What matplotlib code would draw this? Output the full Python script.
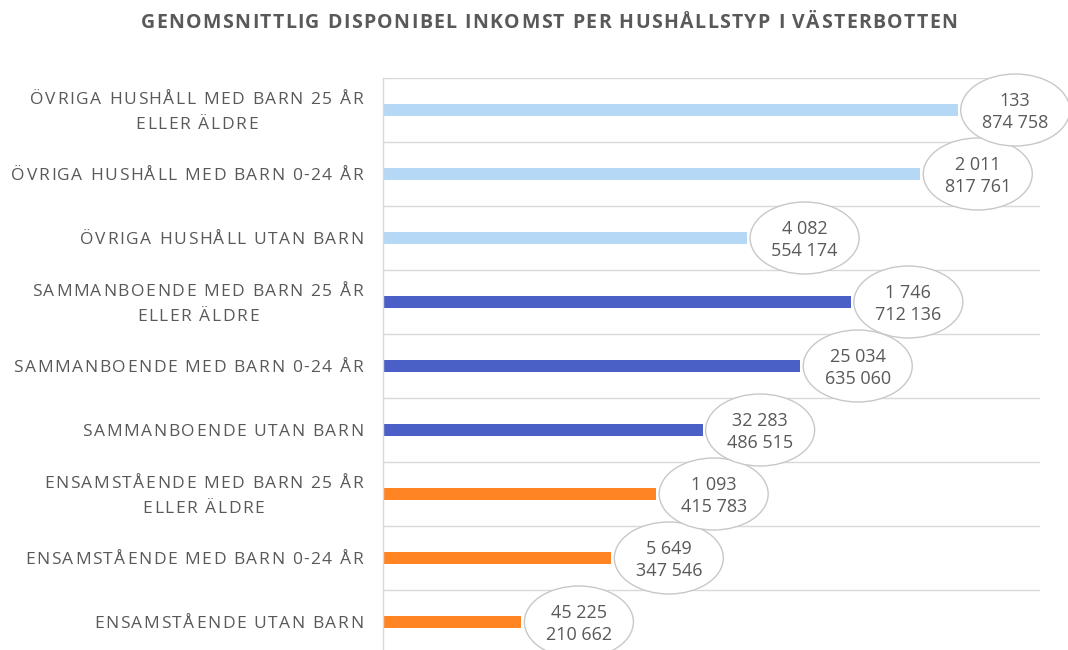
import matplotlib
matplotlib.use("Agg")
import matplotlib.pyplot as plt
from matplotlib.patches import Ellipse
from matplotlib.transforms import ScaledTranslation
from matplotlib.font_manager import FontProperties, findfont
from matplotlib.ft2font import FT2Font

# Household types, listed top to bottom
categories = [
    "ÖVRIGA HUSHÅLL MED BARN 25 ÅR\nELLER ÄLDRE",
    "ÖVRIGA HUSHÅLL MED BARN 0-24 ÅR",
    "ÖVRIGA HUSHÅLL UTAN BARN",
    "SAMMANBOENDE MED BARN 25 ÅR\nELLER ÄLDRE",
    "SAMMANBOENDE MED BARN 0-24 ÅR",
    "SAMMANBOENDE UTAN BARN",
    "ENSAMSTÅENDE MED BARN 25 ÅR\nELLER ÄLDRE",
    "ENSAMSTÅENDE MED BARN 0-24 ÅR",
    "ENSAMSTÅENDE UTAN BARN",
]
# Number of households
households = [133, 2011, 4082, 1746, 25034, 32283, 1093, 5649, 45225]
# Average disposable income (SEK)
income = [874758, 817761, 554174, 712136, 635060, 486515, 415783, 347546, 210662]

title = "GENOMSNITTLIG DISPONIBEL INKOMST PER HUSHÅLLSTYP I VÄSTERBOTTEN"

LIGHT_BLUE = "#B4D8F6"
BLUE = "#4A60C6"
ORANGE = "#FF8424"
colors = [LIGHT_BLUE] * 3 + [BLUE] * 3 + [ORANGE] * 3

TEXT = "#595959"
GRID = "#D9D9D9"
DPI = 100
W, H = 1068, 650


def fmt(v):
    return f"{v:,}".replace(",", " ")


def advances(s, prop):
    """Horizontal advance of each character, in pixels."""
    font = FT2Font(findfont(prop))
    font.set_size(prop.get_size_in_points(), DPI)
    return [font.load_char(ord(c)).linearHoriAdvance / 65536 for c in s]


def letterspaced(draw, s, prop, tracking, x_right=None, x_center=None):
    """Lay out a line character by character with extra tracking (px).
    `draw(x_px, ch)` places one glyph at a left-edge offset in pixels."""
    adv = advances(s, prop)
    total = sum(adv) + tracking * (len(s) - 1)
    if x_right is not None:
        x = x_right - total
    else:
        x = x_center - total / 2
    for ch, a in zip(s, adv):
        if ch != " ":
            draw(x, ch)
        x += a + tracking


fig = plt.figure(figsize=(W / DPI, H / DPI), dpi=DPI)
ax = fig.add_axes([383 / W, -4 / H, 657 / W, 576 / H])

n = len(categories)
ypos = [n - 1 - i for i in range(n)]

ax.barh(ypos, income, height=0.18, color=colors, zorder=2)

ax.set_xlim(0, 1_000_000)
ax.set_ylim(-0.5, n - 0.5)

ax.set_yticks(ypos)
ax.set_yticklabels([])
ax.tick_params(axis="y", length=0)
ax.set_xticks([])
ax.set_yticks([y - 0.5 for y in range(n + 1)], minor=True)
ax.tick_params(axis="y", which="minor", length=0)
ax.grid(True, which="minor", axis="y", color=GRID, linewidth=1, zorder=0)

for s in ("top", "right", "bottom"):
    ax.spines[s].set_visible(False)
ax.spines["left"].set_color(GRID)
ax.spines["left"].set_linewidth(1)

# Category labels: letter-spaced caps, right aligned, lines centred on each other
TRACK = 1.6
label_prop = FontProperties(family="Open Sans", size=12.5)
cap_px = 0.714 * label_prop.get_size_in_points() * DPI / 72
line_gap = 25
for cat, y in zip(categories, ypos):
    lines = cat.split("\n")
    widths = []
    for ln in lines:
        adv = advances(ln, label_prop)
        widths.append(sum(adv) + TRACK * (len(ln) - 1))
    block_center = -20 - max(widths) / 2
    for k, ln in enumerate(lines):
        yoff = ((len(lines) - 1) / 2 - k) * line_gap - cap_px / 2

        def draw(xp, ch, y=y, yoff=yoff):
            ax.annotate(ch, xy=(0, y), xycoords=("axes fraction", "data"),
                        xytext=(xp, yoff), textcoords="offset pixels",
                        ha="left", va="baseline", fontproperties=label_prop,
                        color=TEXT, annotation_clip=False)

        if len(lines) == 1:
            letterspaced(draw, ln, label_prop, TRACK, x_right=-20)
        else:
            letterspaced(draw, ln, label_prop, TRACK, x_center=block_center)

# Ellipse callouts with household count and income, bottom row first
num_prop = FontProperties(family="Open Sans", size=13)
for i in reversed(range(n)):
    y = ypos[i]
    v = income[i]
    z = 10 + 2 * (n - i)
    anchor = ScaledTranslation(v, y, ax.transData)
    ax.add_patch(Ellipse((57.5, 0), 109, 72, transform=anchor,
                         facecolor="white", edgecolor="#C8C8C8",
                         linewidth=1, zorder=z, clip_on=False))
    for txt, dy in ((fmt(households[i]), 9.5), (fmt(v), -13.5)):
        ax.annotate(txt, xy=(v, y), xytext=(57.5, dy),
                    textcoords="offset pixels", ha="center", va="center",
                    fontproperties=num_prop, color=TEXT, zorder=z + 1,
                    annotation_clip=False)

# Title
title_prop = FontProperties(family="Open Sans", size=14, weight="bold")
title_cap = 0.714 * 14 * DPI / 72
title_base = H - 21 - title_cap / 2


def draw_title(xp, ch):
    fig.text(xp / W, title_base / H, ch, ha="left", va="baseline",
             fontproperties=title_prop, color=TEXT)


letterspaced(draw_title, title, title_prop, 1.4, x_center=549)

fig.savefig("out.png", dpi=DPI)
